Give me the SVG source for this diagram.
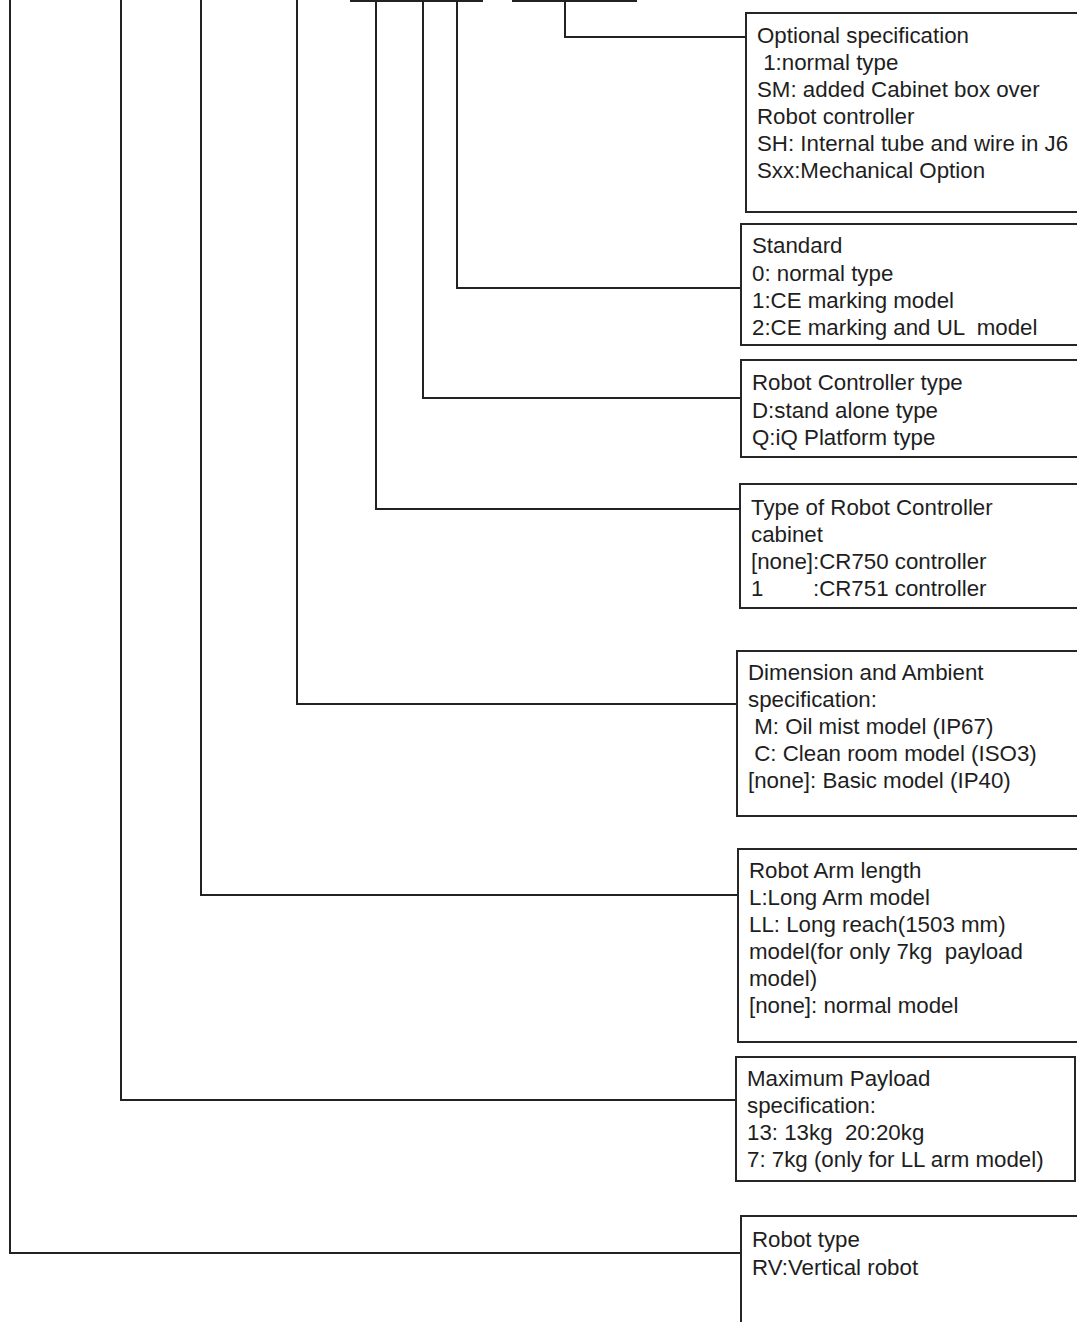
<svg xmlns="http://www.w3.org/2000/svg" width="1077" height="1322" viewBox="0 0 1077 1322">
<style>
.bg{fill:#ffffff}
.box{fill:none;stroke:#262626;stroke-width:2}
.con{fill:none;stroke:#222;stroke-width:2}
.bar{stroke:#222;stroke-width:3}
text{font-family:"Liberation Sans",Arial,sans-serif;font-size:22.3px;fill:#1e1e1e;white-space:pre}
</style>
<rect class="bg" x="0" y="0" width="1077" height="1322"/>
<g id="connectors">
<line class="bar" x1="350" y1="0.5" x2="483" y2="0.5"/>
<line class="bar" x1="512" y1="0.5" x2="637" y2="0.5"/>
<polyline class="con" points="10,0 10,1253 741,1253"/>
<polyline class="con" points="121,0 121,1100 736,1100"/>
<polyline class="con" points="201,0 201,895 738,895"/>
<polyline class="con" points="297,0 297,704 738,704"/>
<polyline class="con" points="376,0 376,509 741,509"/>
<polyline class="con" points="423,0 423,398 741,398"/>
<polyline class="con" points="457,0 457,288 741,288"/>
<polyline class="con" points="565,0 565,37 746,37"/>
</g>
<g id="optional">
<rect class="box" x="746" y="13" width="340" height="199"/>
<text x="757" y="43">Optional specification</text>
<text x="757" y="70" xml:space="preserve"> 1:normal type</text>
<text x="757" y="97">SM: added Cabinet box over</text>
<text x="757" y="124">Robot controller</text>
<text x="757" y="151">SH: Internal tube and wire in J6</text>
<text x="757" y="178">Sxx:Mechanical Option</text>
</g>
<g id="standard">
<rect class="box" x="741" y="224" width="345" height="121"/>
<text x="752" y="253">Standard</text>
<text x="752" y="281">0: normal type</text>
<text x="752" y="308">1:CE marking model</text>
<text x="752" y="335" xml:space="preserve">2:CE marking and UL  model</text>
</g>
<g id="controller-type">
<rect class="box" x="741" y="360" width="345" height="97"/>
<text x="752" y="390">Robot Controller type</text>
<text x="752" y="418">D:stand alone type</text>
<text x="752" y="445">Q:iQ Platform type</text>
</g>
<g id="cabinet">
<rect class="box" x="740" y="484" width="346" height="124"/>
<text x="751" y="515">Type of Robot Controller</text>
<text x="751" y="542">cabinet</text>
<text x="751" y="569">[none]:CR750 controller</text>
<text x="751" y="596" xml:space="preserve">1        :CR751 controller</text>
</g>
<g id="dimension">
<rect class="box" x="737" y="651" width="349" height="165"/>
<text x="748" y="680">Dimension and Ambient</text>
<text x="748" y="707">specification:</text>
<text x="748" y="734" xml:space="preserve"> M: Oil mist model (IP67)</text>
<text x="748" y="761" xml:space="preserve"> C: Clean room model (ISO3)</text>
<text x="748" y="788">[none]: Basic model (IP40)</text>
</g>
<g id="arm-length">
<rect class="box" x="738" y="849" width="348" height="193"/>
<text x="749" y="878">Robot Arm length</text>
<text x="749" y="905">L:Long Arm model</text>
<text x="749" y="932">LL: Long reach(1503 mm)</text>
<text x="749" y="959" xml:space="preserve">model(for only 7kg  payload</text>
<text x="749" y="986">model)</text>
<text x="749" y="1013">[none]: normal model</text>
</g>
<g id="payload">
<rect class="box" x="736" y="1057" width="339" height="124"/>
<text x="747" y="1086">Maximum Payload</text>
<text x="747" y="1113">specification:</text>
<text x="747" y="1140" xml:space="preserve">13: 13kg  20:20kg</text>
<text x="747" y="1167">7: 7kg (only for LL arm model)</text>
</g>
<g id="robot-type">
<rect class="box" x="741" y="1216" width="345" height="120"/>
<text x="752" y="1247">Robot type</text>
<text x="752" y="1275">RV:Vertical robot</text>
</g>
</svg>
